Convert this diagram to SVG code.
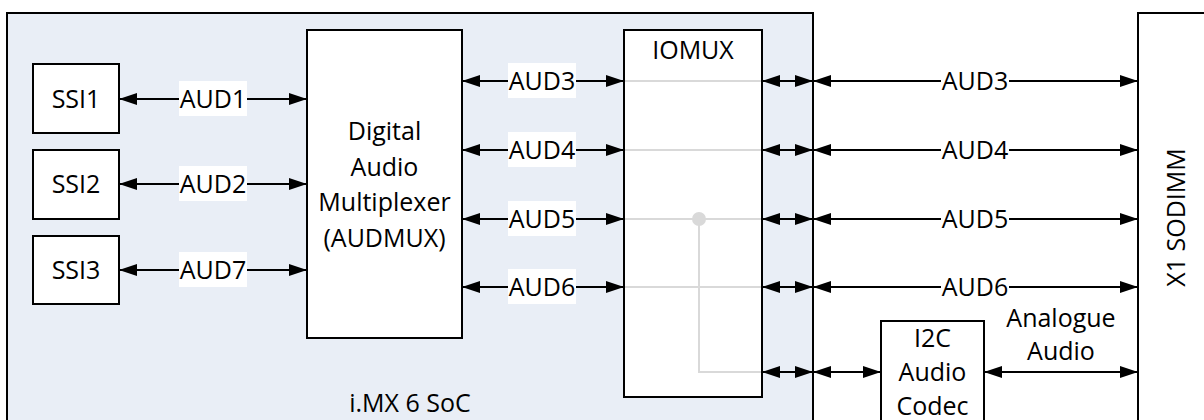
<svg xmlns="http://www.w3.org/2000/svg" width="1204" height="420" viewBox="0 0 1204 420">
<style>
  .box { fill: #ffffff; stroke: #000000; stroke-width: 2; }
  .soc { fill: #E9EEF6; stroke: #000000; stroke-width: 2; }
  .t { font-family: "Open Sans", "Noto Sans", sans-serif; font-size: 25px; fill: #000000; }
  .m { text-anchor: middle; }
  .w { stroke: #000000; stroke-width: 2; fill: none; marker-start: url(#ah); marker-end: url(#ah); }
  .g { stroke: #D9D9D9; stroke-width: 2; fill: none; }
  .lb { fill: #ffffff; }
</style>
<defs>
  <marker id="ah" viewBox="0 0 18 12" refX="18" refY="6" markerWidth="18" markerHeight="12" markerUnits="userSpaceOnUse" orient="auto-start-reverse">
    <path d="M0,0 L18,6 L0,12 z" fill="#000000"/>
  </marker>
</defs>
<rect width="1204" height="420" fill="#ffffff"/>

<g id="soc">
  <rect class="soc" x="7" y="13" width="806" height="420"/>
  <text class="t m" x="410" y="412">i.MX 6 SoC</text>
</g>

<g id="sodimm">
  <rect class="box" x="1138" y="13" width="80" height="420"/>
  <text class="t m" transform="translate(1185,217.5) rotate(-90)">X1 SODIMM</text>
</g>

<g id="ssi1">
  <rect class="box" x="33" y="64" width="86" height="69"/>
  <text class="t m" x="76" y="108">SSI1</text>
</g>
<g id="ssi2">
  <rect class="box" x="33" y="150" width="86" height="69"/>
  <text class="t m" x="76" y="193">SSI2</text>
</g>
<g id="ssi3">
  <rect class="box" x="33" y="236" width="86" height="68"/>
  <text class="t m" x="76" y="279">SSI3</text>
</g>

<g id="audmux">
  <rect class="box" x="307" y="30" width="155" height="308"/>
  <text class="t m" x="384.5" y="140">Digital</text>
  <text class="t m" x="384.5" y="176">Audio</text>
  <text class="t m" x="384.5" y="211">Multiplexer</text>
  <text class="t m" x="384.5" y="247">(AUDMUX)</text>
</g>

<g id="iomux">
  <rect class="box" x="624" y="30" width="138" height="367"/>
  <text class="t m" x="693" y="59">IOMUX</text>
  <line class="g" x1="625" y1="81" x2="761" y2="81"/>
  <line class="g" x1="625" y1="150" x2="761" y2="150"/>
  <line class="g" x1="625" y1="219" x2="761" y2="219"/>
  <line class="g" x1="625" y1="287" x2="761" y2="287"/>
  <polyline class="g" points="699,219 699,372 761,372"/>
  <circle cx="699" cy="219" r="7" fill="#D9D9D9"/>
</g>

<g id="codec">
  <rect class="box" x="881" y="321" width="103" height="120"/>
  <text class="t m" x="932.5" y="347">I2C</text>
  <text class="t m" x="932.5" y="381">Audio</text>
  <text class="t m" x="932.5" y="415">Codec</text>
</g>

<g id="connectors">
  <line class="w" x1="119" y1="99" x2="307" y2="99"/>
  <line class="w" x1="119" y1="184" x2="307" y2="184"/>
  <line class="w" x1="119" y1="270" x2="307" y2="270"/>

  <line class="w" x1="462" y1="81" x2="624" y2="81"/>
  <line class="w" x1="462" y1="150" x2="624" y2="150"/>
  <line class="w" x1="462" y1="219" x2="624" y2="219"/>
  <line class="w" x1="462" y1="287" x2="624" y2="287"/>

  <line class="w" x1="762" y1="81" x2="813" y2="81"/>
  <line class="w" x1="762" y1="150" x2="813" y2="150"/>
  <line class="w" x1="762" y1="219" x2="813" y2="219"/>
  <line class="w" x1="762" y1="287" x2="813" y2="287"/>
  <line class="w" x1="762" y1="372" x2="813" y2="372"/>

  <line class="w" x1="813" y1="81" x2="1138" y2="81"/>
  <line class="w" x1="813" y1="150" x2="1138" y2="150"/>
  <line class="w" x1="813" y1="219" x2="1138" y2="219"/>
  <line class="w" x1="813" y1="287" x2="1138" y2="287"/>
  <line class="w" x1="813" y1="372" x2="881" y2="372"/>
  <line class="w" x1="984" y1="372" x2="1138" y2="372"/>

  <g id="labels">
    <rect class="lb" x="179" y="81" width="68" height="35"/>
    <text class="t m" x="213" y="108">AUD1</text>
    <rect class="lb" x="179" y="166" width="68" height="35"/>
    <text class="t m" x="213" y="193">AUD2</text>
    <rect class="lb" x="179" y="252" width="68" height="35"/>
    <text class="t m" x="213" y="279">AUD7</text>

    <rect class="lb" x="508" y="63" width="68" height="35"/>
    <text class="t m" x="542" y="90">AUD3</text>
    <rect class="lb" x="508" y="132" width="68" height="35"/>
    <text class="t m" x="542" y="159">AUD4</text>
    <rect class="lb" x="508" y="201" width="68" height="35"/>
    <text class="t m" x="542" y="228">AUD5</text>
    <rect class="lb" x="508" y="269" width="68" height="35"/>
    <text class="t m" x="542" y="296">AUD6</text>

    <rect class="lb" x="941" y="63" width="68" height="35"/>
    <text class="t m" x="975" y="90">AUD3</text>
    <rect class="lb" x="941" y="132" width="68" height="35"/>
    <text class="t m" x="975" y="159">AUD4</text>
    <rect class="lb" x="941" y="201" width="68" height="35"/>
    <text class="t m" x="975" y="228">AUD5</text>
    <rect class="lb" x="941" y="269" width="68" height="35"/>
    <text class="t m" x="975" y="296">AUD6</text>

    <text class="t m" x="1061" y="327">Analogue</text>
    <text class="t m" x="1061" y="360">Audio</text>
  </g>
</g>
</svg>
